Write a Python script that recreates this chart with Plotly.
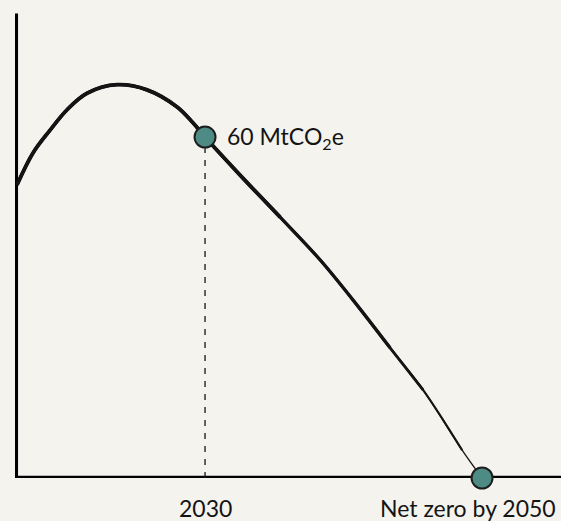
import plotly.graph_objects as go

# Emissions pathway (year, MtCO2e)
years = [2016.43, 2017.58, 2018.81, 2020.04, 2021.48, 2023.65, 2025.81, 2027.98, 2029.13,
         2030.0, 2032.53, 2035.42, 2038.30, 2040.69, 2043.36, 2045.74, 2048.56, 2050.0]
emissions = [51.6, 57.2, 61.2, 64.8, 67.7, 69.2, 68.3, 65.3, 62.5,
             60.0, 53.3, 45.9, 38.4, 31.3, 22.9, 15.5, 4.9, 0.0]

marker_years = [2030, 2050]
marker_values = [60, 0]
marker_label = "60 MtCO<sub>2</sub>e"
tick_labels = ["2030", "Net zero by 2050"]

BG = "#f5f3ee"
INK = "#141414"
TEAL = "#4e8b84"

XR = [2016.28, 2055.70]
YR = [0, 81.82]

fig = go.Figure()

# curve: thin full stroke, with progressively thicker strokes overlaid on the earlier part
for end, w in [(len(years), 1.3), (17, 2.1), (16, 2.8), (15, 3.3), (12, 3.8)]:
    fig.add_trace(go.Scatter(
        x=years[:end], y=emissions[:end], mode="lines",
        line=dict(color=INK, width=w, shape="spline", smoothing=1.0),
        hoverinfo="skip", showlegend=False, cliponaxis=False))

# dashed drop line at 2030
fig.add_trace(go.Scatter(
    x=[marker_years[0], marker_years[0]], y=[0, marker_values[0]], mode="lines",
    line=dict(color=INK, width=1.3, dash="6px,7px"),
    hoverinfo="skip", showlegend=False))

# axes as thick lines
fig.add_shape(type="line", xref="x", yref="y", x0=XR[0] + 0.04, x1=XR[0] + 0.04, y0=0, y1=YR[1] - 0.1,
              line=dict(color="#000", width=5), layer="below")
fig.add_shape(type="line", xref="x", yref="y", x0=XR[0] - 0.1, x1=XR[1], y0=-0.06, y1=-0.06,
              line=dict(color="#000", width=5), layer="below")

# markers
fig.add_trace(go.Scatter(
    x=marker_years, y=marker_values, mode="markers",
    marker=dict(size=21, color=TEAL, line=dict(color="#1e1e1e", width=2)),
    hoverinfo="skip", showlegend=False, cliponaxis=False))

font = dict(family="Lato, 'Open Sans', sans-serif", size=23, color=INK)

fig.add_annotation(x=marker_years[0], y=marker_values[0], xref="x", yref="y",
                   text=marker_label, showarrow=False, xanchor="left", yanchor="middle",
                   xshift=20, yshift=0, font=font)
fig.add_annotation(x=marker_years[0], y=0, xref="x", yref="y",
                   text=tick_labels[0], showarrow=False, xanchor="center", yanchor="middle",
                   yshift=-30, font=font)
fig.add_annotation(x=1, y=0, xref="paper", yref="y",
                   text=tick_labels[1], showarrow=False, xanchor="right", yanchor="middle",
                   xshift=-3, yshift=-30, font=font)

fig.update_layout(
    width=561, height=521,
    margin=dict(l=15, r=0, t=13, b=43),
    paper_bgcolor=BG, plot_bgcolor=BG,
    xaxis=dict(range=XR, visible=False, fixedrange=True),
    yaxis=dict(range=YR, visible=False, fixedrange=True),
)

fig.write_html("out.html", config={"displayModeBar": False},
               post_script="document.body.style.margin='0';document.body.style.overflow='hidden';")
